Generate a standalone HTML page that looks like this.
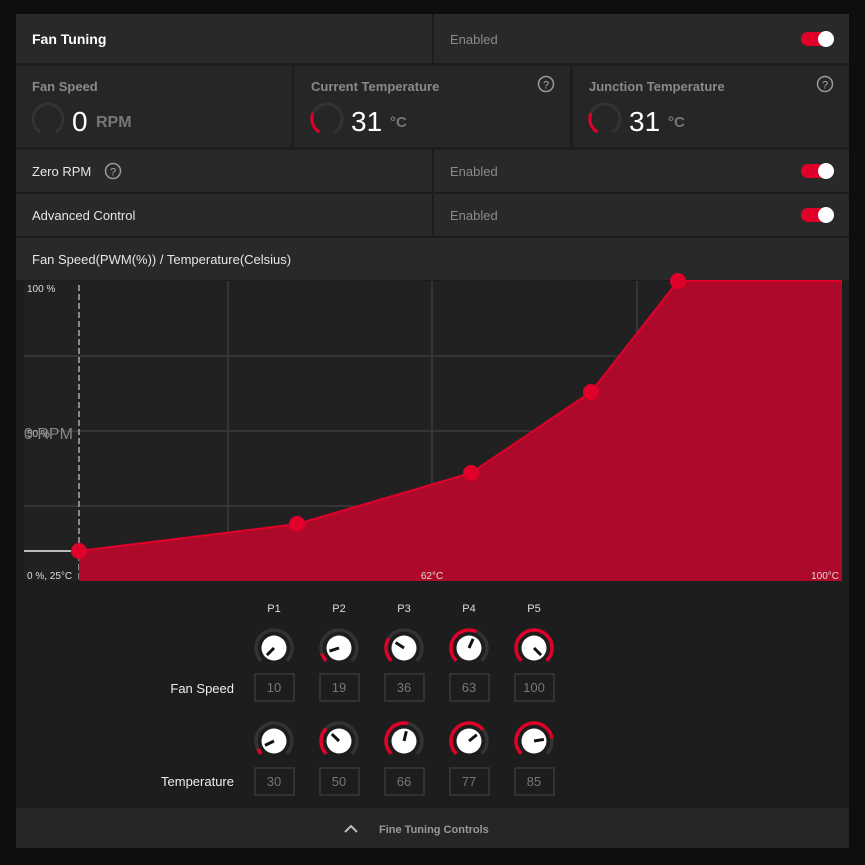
<!DOCTYPE html>
<html><head><meta charset="utf-8"><style>
body{margin:0;background:#0e0e0e;width:865px;height:860px;overflow:hidden;font-family:"Liberation Sans",sans-serif}
</style></head><body>
<svg width="865" height="860" xmlns="http://www.w3.org/2000/svg" font-family="Liberation Sans, sans-serif">
<rect x="0" y="0" width="865" height="860" fill="#0e0e0e"/>
<rect x="16" y="14" width="833" height="834" fill="#1d1d1d"/>
<rect x="16" y="14" width="416" height="49" fill="#292929"/>
<rect x="434" y="14" width="415" height="49" fill="#292929"/>
<text x="32" y="44" fill="#fff" font-size="14" font-weight="bold">Fan Tuning</text>
<text x="450" y="44" fill="#8a8a8a" font-size="13">Enabled</text>
<rect x="16" y="66" width="276" height="81" fill="#262626"/>
<rect x="294" y="66" width="276" height="81" fill="#262626"/>
<rect x="573" y="66" width="276" height="81" fill="#262626"/>
<text x="32" y="91" fill="#8a8a8a" font-size="13" font-weight="bold">Fan Speed</text>
<text x="311" y="91" fill="#8a8a8a" font-size="13" font-weight="bold">Current Temperature</text>
<text x="589" y="91" fill="#8a8a8a" font-size="13" font-weight="bold">Junction Temperature</text>
<g fill="none" stroke="#999" stroke-width="1.5"><circle cx="546" cy="84" r="7.5"/><circle cx="825" cy="84" r="7.5"/></g>
<text x="546" y="88.5" fill="#aaa" font-size="11" text-anchor="middle">?</text>
<text x="825" y="88.5" fill="#aaa" font-size="11" text-anchor="middle">?</text>
<g fill="none" stroke-width="3">
<path d="M40.5,132 A15,15 0 1 1 55.5,132" stroke="#333"/>
<path d="M319.5,132 A15,15 0 1 1 334.5,132" stroke="#333"/>
<path d="M597.5,132 A15,15 0 1 1 612.5,132" stroke="#333"/>
<path d="M319.5,132 A15,15 0 0 1 313,113" stroke="#e0002a"/>
<path d="M597.5,132 A15,15 0 0 1 591,113" stroke="#e0002a"/>
</g>
<text x="72" y="131" fill="#fff" font-size="28">0</text>
<text x="96" y="127" fill="#777" font-size="16" font-weight="bold">RPM</text>
<text x="351" y="131" fill="#fff" font-size="28">31</text>
<text x="390" y="127" fill="#777" font-size="15" font-weight="bold">°C</text>
<text x="629" y="131" fill="#fff" font-size="28">31</text>
<text x="668" y="127" fill="#777" font-size="15" font-weight="bold">°C</text>
<rect x="16" y="150" width="416" height="42" fill="#292929"/>
<rect x="434" y="150" width="415" height="42" fill="#292929"/>
<rect x="16" y="194" width="416" height="42" fill="#292929"/>
<rect x="434" y="194" width="415" height="42" fill="#292929"/>
<text x="32" y="176" fill="#e6e6e6" font-size="13">Zero RPM</text>
<circle cx="113" cy="171" r="7.5" fill="none" stroke="#999" stroke-width="1.5"/>
<text x="113" y="175.5" fill="#aaa" font-size="11" text-anchor="middle">?</text>
<text x="450" y="176" fill="#8a8a8a" font-size="13">Enabled</text>
<text x="32" y="220" fill="#e6e6e6" font-size="13">Advanced Control</text>
<text x="450" y="220" fill="#8a8a8a" font-size="13">Enabled</text>
<g>
<rect x="801" y="32" width="33" height="14" rx="7" fill="#e0002a"/><circle cx="826" cy="39" r="8" fill="#fff"/>
<rect x="801" y="164" width="33" height="14" rx="7" fill="#e0002a"/><circle cx="826" cy="171" r="8" fill="#fff"/>
<rect x="801" y="208" width="33" height="14" rx="7" fill="#e0002a"/><circle cx="826" cy="215" r="8" fill="#fff"/>
</g>
<rect x="16" y="238" width="833" height="42" fill="#292929"/>
<text x="32" y="264" fill="#e6e6e6" font-size="13">Fan Speed(PWM(%)) / Temperature(Celsius)</text>
<rect x="24" y="281" width="818" height="300" fill="#212121"/>
<g stroke="#3c3c3c" stroke-width="1.5">
<line x1="228" y1="281" x2="228" y2="581"/><line x1="432" y1="281" x2="432" y2="581"/><line x1="637" y1="281" x2="637" y2="581"/>
<line x1="24" y1="356" x2="842" y2="356"/><line x1="24" y1="431" x2="842" y2="431"/><line x1="24" y1="506" x2="842" y2="506"/>
</g>
<line x1="79" y1="285" x2="79" y2="581" stroke="#aaa" stroke-width="1.5" stroke-dasharray="6,3"/>
<line x1="24" y1="551" x2="79" y2="551" stroke="#bbb" stroke-width="2"/>
<path d="M79,551 L297,524 L471,473 L591,392 L678,281 L842,281 L842,581 L79,581 Z" fill="#ad0a2b"/>
<polyline points="79,551 297,524 471,473 591,392 678,281 842,281" fill="none" stroke="#e0002a" stroke-width="2"/>
<g fill="#e0002a"><circle cx="79" cy="551" r="8"/><circle cx="297" cy="524" r="8"/><circle cx="471" cy="473" r="8"/><circle cx="591" cy="392" r="8"/><circle cx="678" cy="281" r="8"/></g>
<text x="27" y="292" fill="#ddd" font-size="10">100 %</text>
<text x="27" y="437" fill="#ccc" font-size="10">50 %</text>
<text x="24" y="439" fill="#888" font-size="16">0 RPM</text>
<text x="27" y="579" fill="#ddd" font-size="10">0 %, 25°C</text>
<text x="432" y="579" fill="#ddd" font-size="10" text-anchor="middle">62°C</text>
<text x="839" y="579" fill="#ddd" font-size="10" text-anchor="end">100°C</text>
<g font-size="11" fill="#ddd" text-anchor="middle">
<text x="274" y="612">P1</text><text x="339" y="612">P2</text><text x="404" y="612">P3</text><text x="469" y="612">P4</text><text x="534" y="612">P5</text>
</g>
<text x="234" y="693" fill="#eee" font-size="13" text-anchor="end">Fan Speed</text>
<text x="234" y="786" fill="#eee" font-size="13" text-anchor="end">Temperature</text>
<g id="knobs"></g>
<g fill="#1d1d1d" stroke="#3a3a3a" stroke-width="1.5">
<rect x="255" y="674" width="39" height="27"/><rect x="320" y="674" width="39" height="27"/><rect x="385" y="674" width="39" height="27"/><rect x="450" y="674" width="39" height="27"/><rect x="515" y="674" width="39" height="27"/>
<rect x="255" y="768" width="39" height="27"/><rect x="320" y="768" width="39" height="27"/><rect x="385" y="768" width="39" height="27"/><rect x="450" y="768" width="39" height="27"/><rect x="515" y="768" width="39" height="27"/>
</g>
<g font-size="13" fill="#777" text-anchor="middle">
<text x="274" y="692">10</text><text x="339" y="692">19</text><text x="404" y="692">36</text><text x="469" y="692">63</text><text x="534" y="692">100</text>
<text x="274" y="786">30</text><text x="339" y="786">50</text><text x="404" y="786">66</text><text x="469" y="786">77</text><text x="534" y="786">85</text>
</g>
<rect x="16" y="808" width="833" height="40" fill="#262626"/>
<path d="M345,832 L351,826 L357,832" fill="none" stroke="#bbb" stroke-width="2"/>
<text x="379" y="833" fill="#999" font-size="11" font-weight="bold">Fine Tuning Controls</text>
</svg>
<script>
(function(){
var g=document.getElementById('knobs'),ns='http://www.w3.org/2000/svg';
var xs=[274,339,404,469,534];
var rows=[[648,[0.0,0.1,0.29,0.59,1.0]],[741,[0.07,0.33,0.55,0.69,0.8]]];
function pt(cx,cy,r,a){var t=a*Math.PI/180;return [cx+r*Math.sin(t),cy-r*Math.cos(t)];}
function arc(cx,cy,r,a0,a1){var p=pt(cx,cy,r,a0),q=pt(cx,cy,r,a1);return 'M'+p[0]+','+p[1]+' A'+r+','+r+' 0 '+((a1-a0)>180?1:0)+' 1 '+q[0]+','+q[1];}
function el(n,at){var e=document.createElementNS(ns,n);for(var k in at)e.setAttribute(k,at[k]);g.appendChild(e);}
rows.forEach(function(row){var cy=row[0];row[1].forEach(function(f,i){var cx=xs[i];
el('path',{d:arc(cx,cy,18,-135,135),fill:'none',stroke:'#333',"stroke-width":3.5});
var a=-135+f*270;
if(f>0.02)el('path',{d:arc(cx,cy,18,-135,a),fill:'none',stroke:'#e0002a',"stroke-width":3.5});
el('circle',{cx:cx,cy:cy,r:12.5,fill:'#fff'});
var p=pt(cx,cy,10,a);
el('line',{x1:cx,y1:cy,x2:p[0],y2:p[1],stroke:'#111',"stroke-width":3});
});});
})();
</script>
</body></html>
